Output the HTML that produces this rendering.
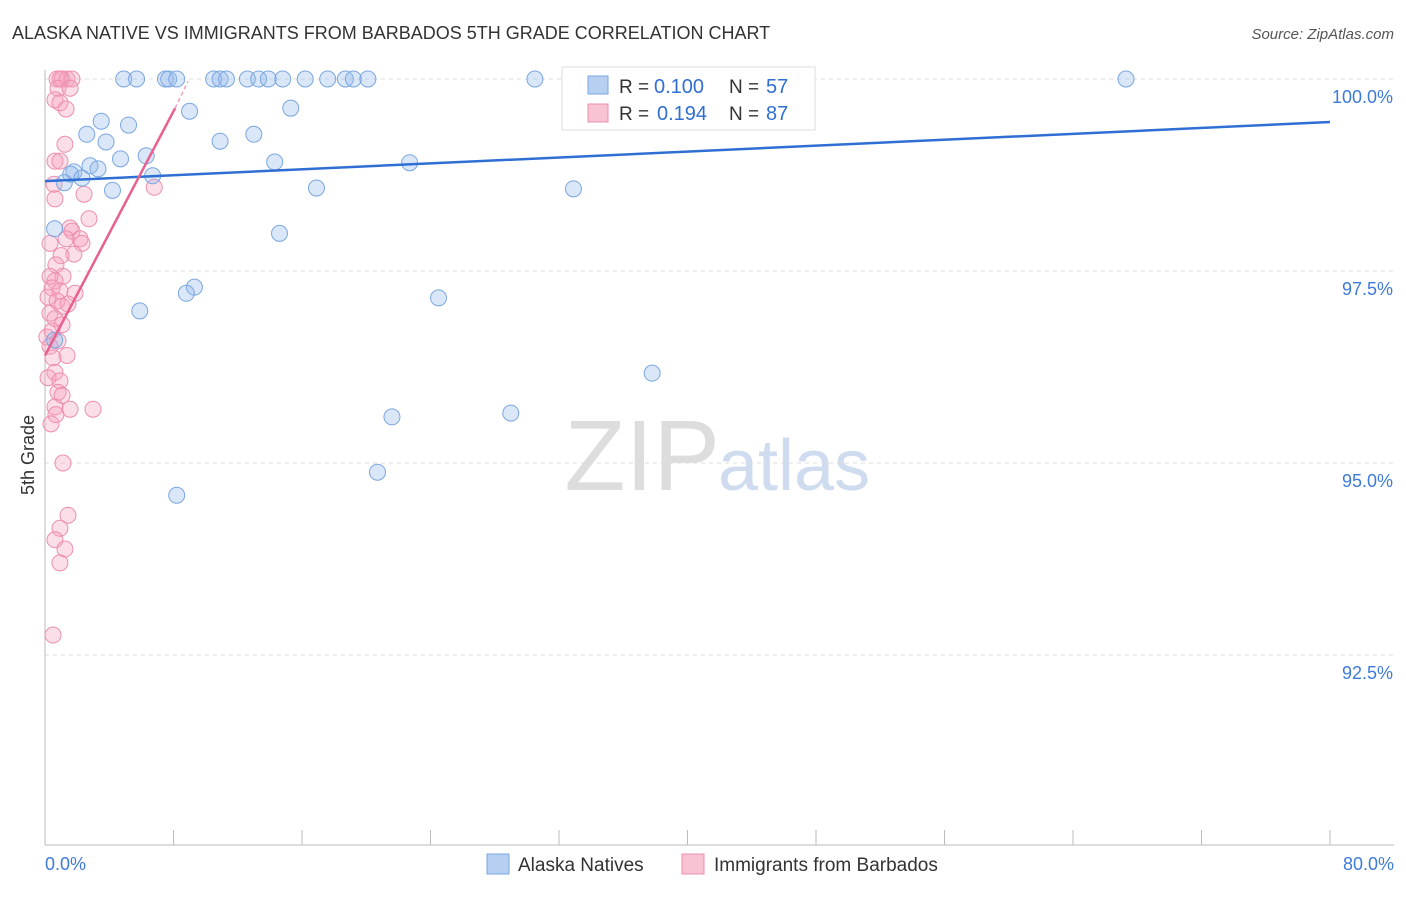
<!DOCTYPE html>
<html><head><meta charset="utf-8"><style>
body{margin:0;background:#fff;font-family:"Liberation Sans",sans-serif}
svg text{font-family:"Liberation Sans",sans-serif}
</style></head><body>
<svg id="chart" width="1406" height="892" xmlns="http://www.w3.org/2000/svg">
<text x="12" y="39" font-size="18" fill="#333">ALASKA NATIVE VS IMMIGRANTS FROM BARBADOS 5TH GRADE CORRELATION CHART</text>
<text x="1394" y="39" font-size="15" fill="#555" font-style="italic" text-anchor="end">Source: ZipAtlas.com</text>
<text x="34" y="455" font-size="18" fill="#333" transform="rotate(-90 34 455)" text-anchor="middle">5th Grade</text>
<text x="720" y="490" font-size="100" fill="#ddd" text-anchor="end" font-family="Liberation Serif">ZIP</text>
<text x="718" y="490" font-size="72" fill="#cfdcef">atlas</text>
<g id="grid"></g><g id="axes"></g><g id="pts"></g><g id="trend"></g>
<g>
<rect x="562" y="67" width="253" height="63" fill="#fff" stroke="#ddd"/>
<rect x="588" y="76" width="20" height="18" fill="#b7d0f2" stroke="#7aa6e0"/>
<text x="619" y="93" font-size="19" fill="#333">R =</text>
<text x="654" y="93" font-size="20" fill="#2f6fd3">0.100</text>
<text x="729" y="93" font-size="19" fill="#333">N =</text>
<text x="766" y="93" font-size="20" fill="#2f6fd3">57</text>
<rect x="588" y="104" width="20" height="18" fill="#f8c3d3" stroke="#ec8fad"/>
<text x="619" y="120" font-size="19" fill="#333">R =</text>
<text x="657" y="120" font-size="20" fill="#2f6fd3">0.194</text>
<text x="729" y="120" font-size="19" fill="#333">N =</text>
<text x="766" y="120" font-size="20" fill="#2f6fd3">87</text>
</g>
<g>
<rect x="487" y="854" width="22" height="20" fill="#b7d0f2" stroke="#7aa6e0"/>
<text x="518" y="871" font-size="19" fill="#333">Alaska Natives</text>
<rect x="682" y="854" width="22" height="20" fill="#f8c3d3" stroke="#ec8fad"/>
<text x="714" y="871" font-size="19" fill="#333">Immigrants from Barbados</text>
</g>
</svg>
<script>
const yTicks=[100,97.5,95,92.5];
const yTickLabels=["100.0%","97.5%","95.0%","92.5%"];
const xEndLabels=["0.0%","80.0%"];
const blueX=[4.9,5.7,7.5,7.7,8.2,10.5,10.9,11.3,12.6,13.3,13.9,14.8,16.2,17.6,18.7,19.2,20.1,30.5,41.5,44.7,67.3,9.0,15.3,3.5,5.2,2.6,3.8,10.9,13.0,6.3,4.7,14.3,22.7,2.8,3.3,1.8,1.6,2.3,6.7,1.2,4.2,16.9,32.9,0.6,14.6,9.3,8.8,24.5,5.9,0.6,37.8,21.6,29.0,20.7,8.2];
const blueY=[100,100,100,100,100,100,100,100,100,100,100,100,100,100,100,100,100,100,100,100,100,99.58,99.62,99.45,99.4,99.28,99.18,99.19,99.28,99.0,98.96,98.92,98.91,98.87,98.83,98.79,98.76,98.71,98.74,98.65,98.55,98.58,98.57,98.05,97.99,97.29,97.21,97.15,96.98,96.6,96.17,95.6,95.65,94.88,94.58];
const pinkX=[0.75,1.06,1.37,1.68,0.93,0.81,1.56,0.62,0.93,1.31,1.24,0.62,0.93,0.56,2.43,0.62,6.8,2.74,1.56,1.68,0.31,1.31,2.18,2.3,1.8,1.0,0.68,1.12,0.31,0.62,0.44,0.93,1.87,0.19,0.75,1.43,1.06,0.31,0.62,1.06,0.44,0.12,0.81,0.31,1.37,0.5,0.62,0.19,0.93,0.81,1.06,0.62,1.56,2.99,0.68,0.37,1.12,1.43,0.93,0.62,1.24,0.93,0.5];
const pinkY=[100,100,100,100,100,99.88,99.88,99.73,99.69,99.61,99.15,98.93,98.93,98.63,98.5,98.44,98.59,98.18,98.06,98.02,97.86,97.92,97.92,97.86,97.72,97.7,97.58,97.43,97.43,97.37,97.28,97.24,97.21,97.16,97.11,97.07,97.04,96.95,96.88,96.8,96.72,96.64,96.59,96.52,96.4,96.37,96.18,96.11,96.07,95.92,95.88,95.73,95.7,95.7,95.63,95.51,95.0,94.32,94.15,94.0,93.88,93.7,92.76];
const blueTrend=[[0,98.67],[80,99.44]];
const pinkTrend=[[0,96.4],[8.1,99.62]];
const pinkDash=[[8.1,99.62],[8.9,99.97]];
const sx=v=>45+v/80*1285, sy=v=>79+(100-v)/2.5*192;
const NS="http://www.w3.org/2000/svg";
function mk(t,a,p){const e=document.createElementNS(NS,t);for(const k in a)e.setAttribute(k,a[k]);document.getElementById(p).appendChild(e);return e;}
yTicks.forEach((t,i)=>{
 const l=mk('line',{x1:45,x2:1394,y1:sy(t),y2:sy(t),stroke:'#ddd','stroke-dasharray':'4,4'},'grid');
 
 
 const tx=mk('text',{x:1393,y:sy(t)+24,'font-size':18,fill:'#3d7bd9','text-anchor':'end'},'grid');tx.textContent=yTickLabels[i];
 
 
});
const xa=mk('line',{x1:45,x2:1394,y1:845,y2:845,stroke:'#bbb'},'axes');


const ya=mk('line',{x1:45,x2:45,y1:70,y2:845,stroke:'#bbb'},'axes');


for(let i=0;i<=10;i++){const t=mk('line',{x1:sx(i*8),x2:sx(i*8),y1:830,y2:845,stroke:'#bbb'},'axes');
 
 }
[[0,'start',45],[1,'end',1394]].forEach(([i,a,x])=>{const t=mk('text',{x:x,y:870,'font-size':18,fill:'#3d7bd9','text-anchor':a},'axes');t.textContent=xEndLabels[i];
 
 });
pinkX.forEach((x,i)=>{const c=mk('circle',{cx:sx(x),cy:sy(pinkY[i]),r:8,fill:'rgba(245,160,190,0.35)',stroke:'#ec8fad','stroke-width':1},'pts');
 
 });
blueX.forEach((x,i)=>{const c=mk('circle',{cx:sx(x),cy:sy(blueY[i]),r:8,fill:'rgba(150,185,235,0.35)',stroke:'#7aa6e0','stroke-width':1},'pts');
 
 });
const bt=mk('line',{x1:sx(blueTrend[0][0]),y1:sy(blueTrend[0][1]),x2:sx(blueTrend[1][0]),y2:sy(blueTrend[1][1]),stroke:'#2f6fd3','stroke-width':2.5},'trend');


const pt=mk('line',{x1:sx(pinkTrend[0][0]),y1:sy(pinkTrend[0][1]),x2:sx(pinkTrend[1][0]),y2:sy(pinkTrend[1][1]),stroke:'#e8608f','stroke-width':2.5},'trend');


const pd=mk('line',{x1:sx(pinkDash[0][0]),y1:sy(pinkDash[0][1]),x2:sx(pinkDash[1][0]),y2:sy(pinkDash[1][1]),stroke:'#f0a0bb','stroke-width':1.5,'stroke-dasharray':'4,3'},'trend');


</script>
</body></html>
